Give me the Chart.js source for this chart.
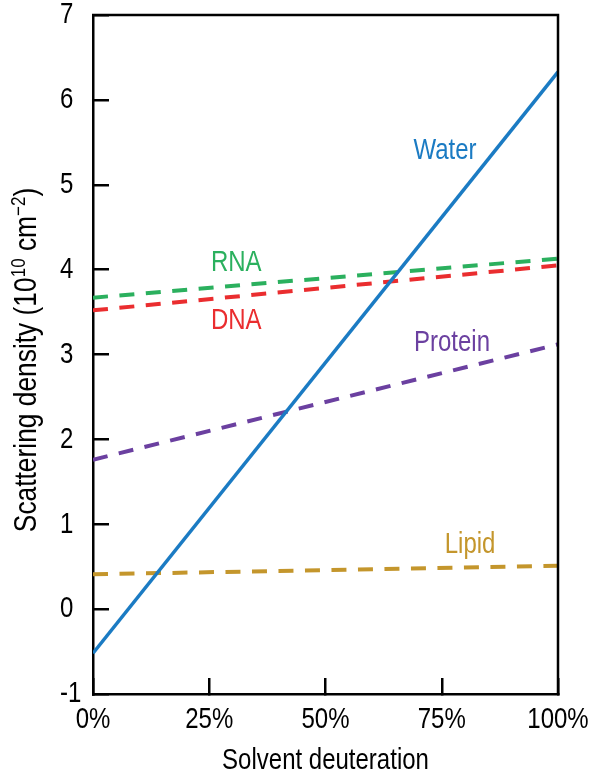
<!DOCTYPE html>
<html><head><meta charset="utf-8">
<script src="https://cdn.jsdelivr.net/npm/chart.js@4/dist/chart.umd.min.js"></script>
<style>html,body{margin:0;padding:0;background:#fff}#wrap{width:591px;height:772px}</style>
</head><body><div id="wrap"><canvas id="c" width="591" height="772"></canvas></div>
<script>
// ---- data ----
const deuteration = [0, 100];            // % solvent deuteration
const water   = [-0.52, 6.33];
const rna     = [3.67, 4.13];
const dna     = [3.52, 4.05];
const protein = [1.76, 3.12];
const lipid   = [0.41, 0.51];
const seriesNames = ['Water', 'RNA', 'DNA', 'Protein', 'Lipid'];
const xTickValues = [0, 25, 50, 75, 100];
const xTickLabels = ['0%', '25%', '50%', '75%', '100%'];
const yTickValues = [-1, 0, 1, 2, 3, 4, 5, 6, 7];
const yTickLabels = ['-1', '0', '1', '2', '3', '4', '5', '6', '7'];
// label anchor positions in data units (x %, y density)
const labelX = [75.7, 30.8, 30.8, 77.2, 81.1];
const labelY = [5.40, 4.08, 3.40, 3.14, 0.76];

const FAMILY = "'Liberation Sans', Arial, sans-serif";
const COND = 0.8;   // horizontal condensing of all text (condensed typeface look)
const colors = {
  Water: '#1b7bc3', RNA: '#2bb05e', DNA: '#ea2d2f', Protein: '#6b40a0', Lipid: '#c4962c'
};

const canvas = document.getElementById('c');
const c2d = canvas.getContext('2d');
const P = CanvasRenderingContext2D.prototype;
let condFactor = COND;
c2d.fillText = function (t, x, y, mw) {
  const w = P.measureText.call(this, String(t)).width * condFactor;
  return P.fillText.call(this, t, x, y, (mw !== undefined && mw !== null) ? Math.min(mw, w) : w);
};

function pts(ys) { return deuteration.map((x, i) => ({x: x, y: ys[i]})); }
const seriesValues = [water, rna, dna, protein, lipid];
const datasets = seriesNames.map((name, i) => ({
  label: name,
  data: pts(seriesValues[i]),
  borderColor: colors[name],
  borderWidth: name === 'Water' ? 3.5 : 4,
  borderDash: name === 'Water' ? [] : [15, 11.5],
  borderCapStyle: 'butt',
  pointRadius: 0,
  fill: false,
  tension: 0
}));

const decor = {
  id: 'decor',
  afterDraw(chart) {
    const ctx = chart.ctx, a = chart.chartArea;
    const xs = chart.scales.x, ys = chart.scales.y;
    ctx.save();
    // top and right frame
    ctx.strokeStyle = '#000'; ctx.lineWidth = 2.5; ctx.setLineDash([]);
    ctx.beginPath();
    ctx.moveTo(a.left - 1, a.top); ctx.lineTo(a.right, a.top); ctx.lineTo(a.right, a.bottom + 1);
    ctx.stroke();
    // series labels
    ctx.font = '30px ' + FAMILY;
    ctx.textAlign = 'center'; ctx.textBaseline = 'middle';
    seriesNames.forEach((n, i) => {
      ctx.fillStyle = colors[n];
      ctx.fillText(n, xs.getPixelForValue(labelX[i]), ys.getPixelForValue(labelY[i]));
    });
    // y axis title with superscripts
    const TC = 0.85;
    condFactor = TC;
    const parts = [
      {t: 'Scattering density (10', sup: false},
      {t: '10', sup: true},
      {t: ' cm', sup: false},
      {t: '\u22122', sup: true},
      {t: ')', sup: false}
    ];
    const big = '31px ' + FAMILY, small = '20px ' + FAMILY;
    let total = 0;
    parts.forEach(p => { ctx.font = p.sup ? small : big; p.w = P.measureText.call(ctx, p.t).width * TC; total += p.w; });
    ctx.translate(36, 360);
    ctx.rotate(-Math.PI / 2);
    ctx.fillStyle = '#000'; ctx.textAlign = 'left'; ctx.textBaseline = 'alphabetic';
    let cx = -total / 2;
    parts.forEach(p => {
      ctx.font = p.sup ? small : big;
      ctx.fillText(p.t, cx, p.sup ? -11 : 0);
      cx += p.w;
    });
    condFactor = COND;
    ctx.restore();
  }
};

new Chart(canvas, {
  type: 'line',
  data: { datasets },
  options: {
    responsive: false,
    animation: false,
    devicePixelRatio: 1,
    layout: { padding: { left: 60, right: 33, top: 15, bottom: 0 } },
    plugins: { legend: { display: false }, tooltip: { enabled: false } },
    scales: {
      x: {
        type: 'linear', min: 0, max: 100,
        afterBuildTicks: s => { s.ticks = xTickValues.map(v => ({value: v})); },
        afterFit: s => { s.height = 78; s.paddingLeft = 0; s.paddingRight = 0; },
        ticks: {
          autoSkip: false, maxRotation: 0, padding: 24, color: '#000',
          font: { size: 30, family: FAMILY },
          callback: (v, i) => xTickLabels[i]
        },
        grid: { drawOnChartArea: false, drawTicks: true, tickLength: -16, color: '#000', lineWidth: 2.5 },
        border: { display: true, color: '#000', width: 2.5 },
        title: {
          display: true, text: 'Solvent deuteration', color: '#000',
          font: { size: 30, family: FAMILY, lineHeight: 1 },
          padding: { top: 0, bottom: -4 }
        }
      },
      y: {
        type: 'linear', min: -1, max: 7,
        afterBuildTicks: s => { s.ticks = yTickValues.map(v => ({value: v})); },
        afterFit: s => { s.width = 33; s.paddingTop = 0; s.paddingBottom = 0; },
        ticks: {
          autoSkip: false, crossAlign: 'far', color: '#000',
          font: { size: 30, family: FAMILY },
          callback: (v, i) => yTickLabels[i]
        },
        grid: { drawOnChartArea: false, drawTicks: true, tickLength: -16, color: '#000', lineWidth: 2.5 },
        border: { display: true, color: '#000', width: 2.5 }
      }
    }
  },
  plugins: [decor]
});
</script>
</body></html>
